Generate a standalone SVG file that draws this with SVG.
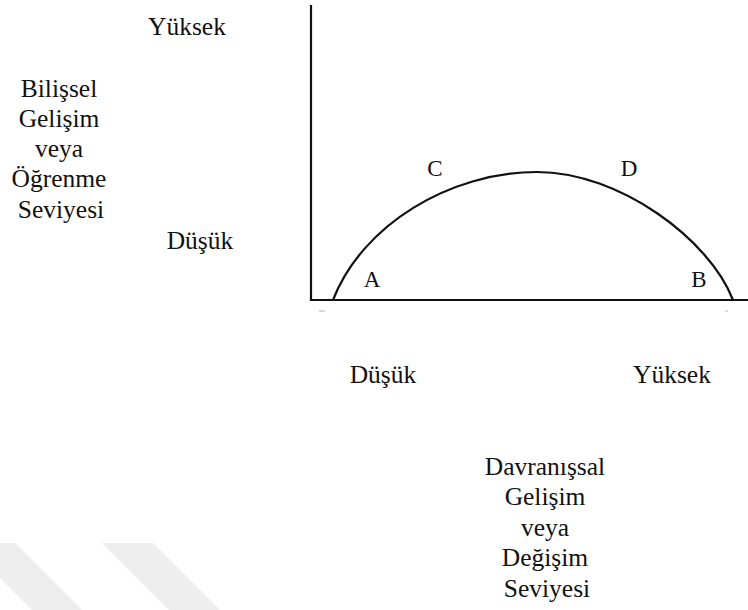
<svg xmlns="http://www.w3.org/2000/svg" width="748" height="610" viewBox="0 0 748 610">
<style>
text{font-family:'Liberation Serif','DejaVu Serif','Times New Roman',serif;fill:#111;}
.lbl{font-size:25.5px;text-anchor:middle;}
.pt{font-size:23px;text-anchor:middle;}
.ax{stroke:#111;stroke-width:2.2;fill:none;}
.wm{fill:#eeeeee;}
</style>
<rect width="748" height="610" fill="#fff"/>
<g id="watermark">
<polygon class="wm" points="-35,543 15,543 82,610 32,610"/>
<polygon class="wm" points="102,543 153,543 220,610 169,610"/>
</g>
<g id="connectors">
<path id="y-axis" class="ax" d="M311,5 V300"/>
<path id="x-axis" class="ax" d="M310,300 H748"/>
<path id="curve" class="ax" d="M333,300 C362,225 450,172 537,172 C620,172 710,240 733,300"/>
<path d="M319,311 h6 M725,311 h3" stroke="#ccc" stroke-width="1.5"/>
</g>
<g font-family="Liberation Serif, DejaVu Serif, serif">
<g id="y-high"><text class="lbl" x="187" y="35">Yüksek</text></g>
<g id="y-title">
<text class="lbl" x="59" y="97">Bilişsel</text>
<text class="lbl" x="59" y="127">Gelişim</text>
<text class="lbl" x="59" y="157">veya</text>
<text class="lbl" x="59" y="187">Öğrenme</text>
<text class="lbl" x="61" y="218">Seviyesi</text>
</g>
<g id="y-low"><text class="lbl" x="200" y="249">Düşük</text></g>
<g id="point-A"><text class="pt" x="372" y="287">A</text></g>
<g id="point-B"><text class="pt" x="699" y="287">B</text></g>
<g id="point-C"><text class="pt" x="435" y="176">C</text></g>
<g id="point-D"><text class="pt" x="629" y="176">D</text></g>
<g id="x-low"><text class="lbl" x="383" y="383">Düşük</text></g>
<g id="x-high"><text class="lbl" x="672" y="383">Yüksek</text></g>
<g id="x-title">
<text class="lbl" x="545" y="475">Davranışsal</text>
<text class="lbl" x="545" y="505">Gelişim</text>
<text class="lbl" x="545" y="536">veya</text>
<text class="lbl" x="545" y="566">Değişim</text>
<text class="lbl" x="547" y="597">Seviyesi</text>
</g>
</g>
</svg>
